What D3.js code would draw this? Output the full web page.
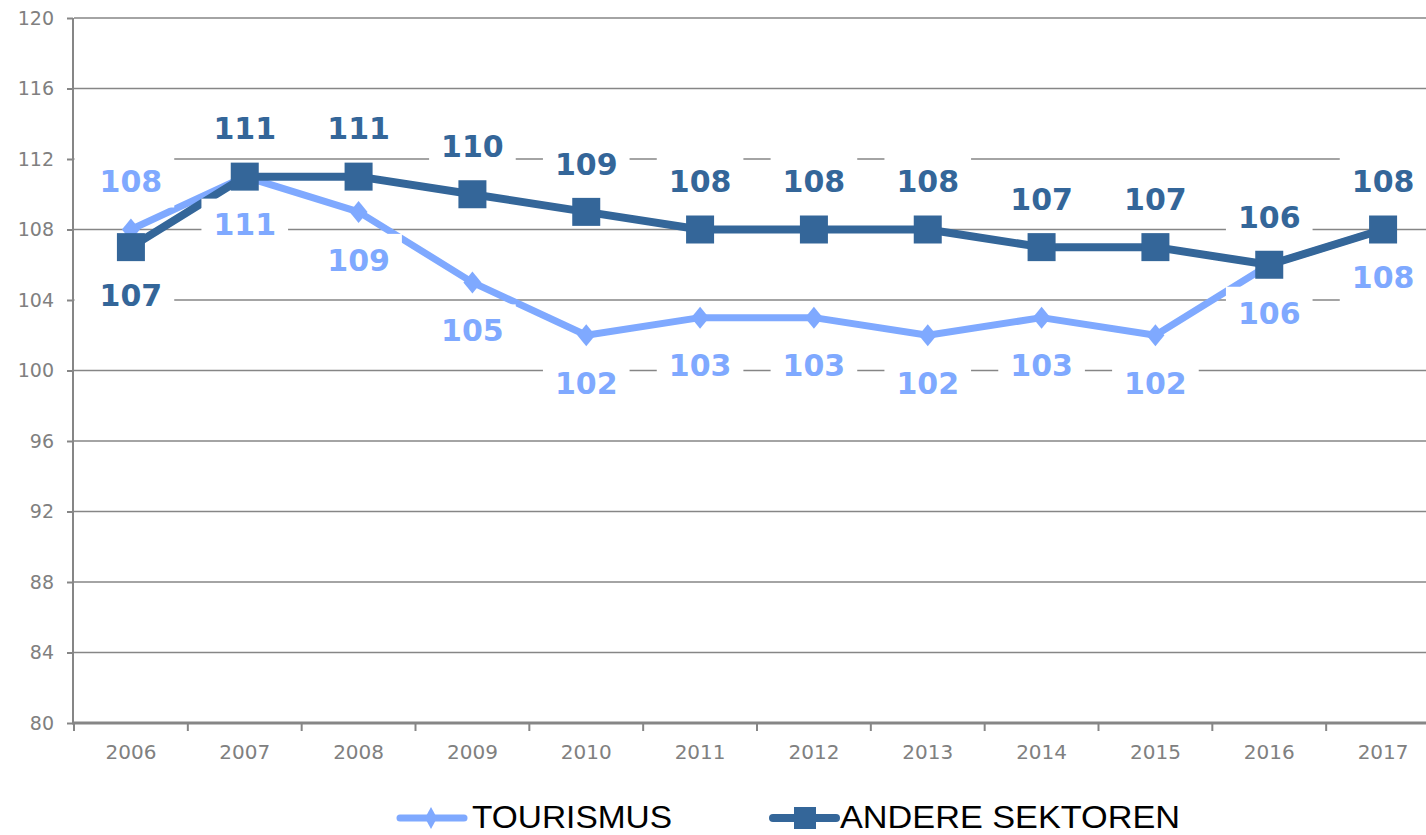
<!DOCTYPE html>
<html><head><meta charset="utf-8">
<script src="https://cdn.jsdelivr.net/npm/d3@7"></script>
<style>body{margin:0;background:#fff;overflow:hidden}svg{display:block}</style>
</head><body>
<script>
const years = ["2006","2007","2008","2009","2010","2011","2012","2013","2014","2015","2016","2017"];
const tourismus = [108,111,109,105,102,103,103,102,103,102,106,108];
const andere = [107,111,111,110,109,108,108,108,107,107,106,108];
const yTicks = [80,84,88,92,96,100,104,108,112,116,120];
// label placement: -1 = above, 1 = below
const tourPos = [-1,1,1,1,1,1,1,1,1,1,1,1];
const anderePos = [1,-1,-1,-1,-1,-1,-1,-1,-1,-1,-1,-1];
const seriesNames = ["TOURISMUS","ANDERE SEKTOREN"];

const W = 1426, H = 835;
const cLight = "#7FA9FF", cDark = "#346699", cGrid = "#868686";
const svg = d3.select("body").append("svg").attr("width", W).attr("height", H);

const x = d3.scaleBand().domain(years).range([74, 1440]);
const y = d3.scaleLinear().domain([80,120]).range([723, 18]);
const cx = d => x(d) + x.bandwidth()/2;

// grid
svg.append("g").selectAll("line").data(yTicks.filter(t=>t>80)).join("line")
  .attr("x1", 74).attr("x2", W).attr("y1", d=>y(d)).attr("y2", d=>y(d))
  .attr("stroke", cGrid).attr("stroke-width", 1.5);

// y axis
const yAx = svg.append("g").attr("transform","translate(73,0)")
  .call(d3.axisLeft(y).tickValues(yTicks).tickSize(6).tickPadding(13));
yAx.select(".domain").attr("stroke", cGrid).attr("stroke-width", 2).attr("d", `M0,${y(120)}V${y(80)}`);
yAx.selectAll(".tick line").attr("stroke", cGrid).attr("stroke-width", 2);
yAx.selectAll(".tick text").attr("fill", "#808080").style("font-family","DejaVu Sans").style("font-size","19px");

// x axis
const xAx = svg.append("g").attr("transform","translate(0,723)")
  .call(d3.axisBottom(x).tickSize(0).tickPadding(22));
xAx.select(".domain").attr("stroke", cGrid).attr("stroke-width", 3).attr("d", `M72,0H${W}`);
xAx.selectAll(".tick text").attr("fill", "#808080").style("font-family","DejaVu Sans").style("font-size","20px");
svg.append("g").selectAll("line").data(years).join("line")
  .attr("x1", d=>x(d)).attr("x2", d=>x(d)).attr("y1", 723).attr("y2", 731)
  .attr("stroke", cGrid).attr("stroke-width", 2);

const line = d3.line().x((d,i)=>cx(years[i])).y(d=>y(d));
svg.append("path").datum(tourismus).attr("d", line).attr("fill","none")
  .attr("stroke", cLight).attr("stroke-width", 7).attr("stroke-linejoin","round");
svg.append("path").datum(andere).attr("d", line).attr("fill","none")
  .attr("stroke", cDark).attr("stroke-width", 8).attr("stroke-linejoin","round");

const diamond = (hw, hh) => `M0,${-hh}L${hw},0L0,${hh}L${-hw},0Z`;
svg.append("g").selectAll("path").data(tourismus).join("path")
  .attr("transform",(d,i)=>`translate(${cx(years[i])},${y(d)})`)
  .attr("d", diamond(9,11)).attr("fill", cLight);
const sq = 28;
svg.append("g").selectAll("rect").data(andere).join("rect")
  .attr("x",(d,i)=>cx(years[i])-sq/2).attr("y",d=>y(d)-sq/2)
  .attr("width",sq).attr("height",sq).attr("fill", cDark);

function labels(vals, pos, color){
  const g = svg.append("g");
  vals.forEach((v,i)=>{
    const px = cx(years[i]), py = y(v) + pos[i]*48;
    const t = g.append("text").attr("x", px).attr("y", py).attr("dy","0.36em")
      .attr("text-anchor","middle").attr("fill", color)
      .style("font-family","DejaVu Sans").style("font-weight","bold").style("font-size","30px")
      .text(v);
    const bb = t.node().getBBox();
    let x0 = bb.x-12;
    const x1 = bb.x+bb.width+12;
    if (i === 0) x0 = 74.5;
    g.insert("rect", "text").attr("x", x0).attr("y", py-26).attr("width", x1-x0).attr("height", 52).attr("fill","#fff");
  });
}
labels(tourismus, tourPos, cLight);
labels(andere, anderePos, cDark);

// legend
const lg = svg.append("g");
lg.append("line").attr("x1",400).attr("x2",464).attr("y1",818).attr("y2",818)
  .attr("stroke",cLight).attr("stroke-width",7).attr("stroke-linecap","round");
lg.append("path").attr("transform","translate(431,818)").attr("d", diamond(6,11)).attr("fill", cLight);
lg.append("text").attr("x",472).attr("y",828).attr("textLength",200).attr("lengthAdjust","spacingAndGlyphs")
  .style("font-family","Liberation Sans").style("font-size","32px").attr("fill","#000").text(seriesNames[0]);
lg.append("line").attr("x1",773).attr("x2",836).attr("y1",818).attr("y2",818)
  .attr("stroke",cDark).attr("stroke-width",8).attr("stroke-linecap","round");
lg.append("rect").attr("x",794).attr("y",807).attr("width",22).attr("height",22).attr("fill", cDark);
lg.append("text").attr("x",840).attr("y",828).attr("textLength",340).attr("lengthAdjust","spacingAndGlyphs")
  .style("font-family","Liberation Sans").style("font-size","32px").attr("fill","#000").text(seriesNames[1]);
</script>
</body></html>
